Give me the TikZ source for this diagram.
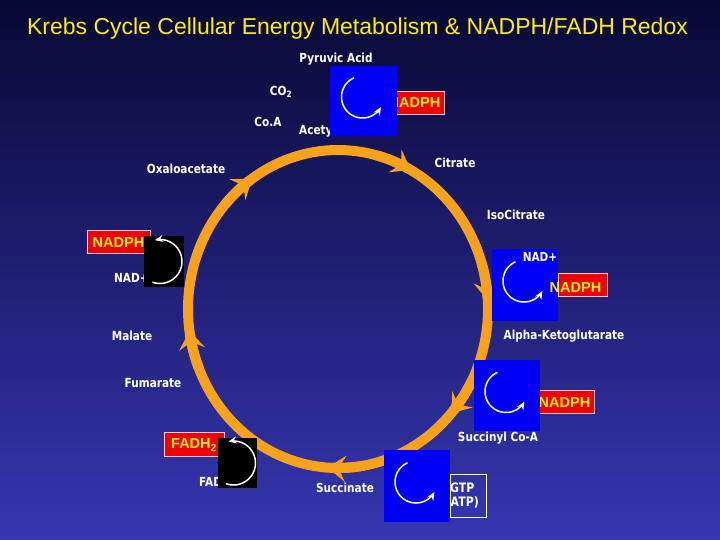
\documentclass[tikz,border=0pt]{standalone}
\usepackage{fontspec}
\setmainfont{Liberation Sans}
\newfontfamily\labfont[FakeStretch=0.84]{DejaVu Sans}
\usetikzlibrary{arrows.meta}
\definecolor{bgtop}{RGB}{8,8,52}
\definecolor{bgbot}{RGB}{54,54,178}
\definecolor{orng}{RGB}{248,162,28}
\definecolor{boxblue}{RGB}{0,0,245}
\definecolor{boxred}{RGB}{240,0,0}
\definecolor{ylw}{RGB}{255,240,0}
\definecolor{redrim}{RGB}{255,200,200}
\tikzset{
  lab/.style={text=white, font=\labfont\bfseries\fontsize{12.5}{14}\selectfont, inner sep=0pt},
  ring/.style={draw=orng, line width=10pt},
  cyc/.style={draw=orng, line width=10pt, -{Stealth[length=18pt,width=26pt,inset=7pt]}},
  bluebox/.style={fill=boxblue, inner sep=0pt, minimum width=66pt, minimum height=71pt},
  blackbox/.style={fill=black, inner sep=0pt, minimum width=40pt, minimum height=50pt},
  redbox/.style={fill=boxred, draw=redrim, line width=0.8pt, inner sep=0pt, minimum height=23pt},
  ytext/.style={text=ylw, font=\bfseries\fontsize{14.5}{16}\selectfont, inner sep=0pt},
  turn/.style={draw=white, line width=1.5pt, -{Stealth[length=8pt,width=7pt]}}
}
\begin{document}
\begin{tikzpicture}[x=1pt,y=-1pt]
\shade[top color=bgtop, bottom color=bgbot] (0,0) rectangle (720,540);
\useasboundingbox (0,0) rectangle (720,540);

% title
\node[text=ylw, font=\fontsize{23}{26}\selectfont, inner sep=0pt] (title) at (357.5,29) {Krebs Cycle Cellular Energy Metabolism \& NADPH/FADH Redox};

% cycle
\def\cx{338}\def\cy{309}\def\rx{150}\def\ry{159}
\draw[ring] plot[domain=0:360, samples=120, smooth cycle] ({\cx+\rx*cos(\x)}, {\cy+\ry*sin(\x)});
\foreach \b in {41, 94, 172, 235, 299, 357}{
  \draw[cyc] plot[domain=\b-14:\b, samples=10, smooth] ({\cx+\rx*cos(\x)}, {\cy+\ry*sin(\x)});
}

% labels
\node[lab] (pyr) at (336,59) {Pyruvic Acid};
\node[lab] (co2) at (281,92) {CO\textsubscript{2}};
\node[lab] (coa) at (268,122) {Co.A};
\node[lab, anchor=west] (acetyl) at (299,131) {Acetyl Co-A};
\node[lab] (oxa) at (186,169) {Oxaloacetate};
\node[lab] (cit) at (455,163) {Citrate};
\node[lab] (iso) at (516,215) {IsoCitrate};
\node[lab, anchor=west] (nadl) at (114,278) {NAD+};
\node[lab] (akg) at (564,336) {Alpha-Ketoglutarate};
\node[lab] (mal) at (132,336) {Malate};
\node[lab] (fum) at (153,383) {Fumarate};
\node[lab] (suc) at (498,438) {Succinyl Co-A};
\node[lab] (scn) at (345,488) {Succinate};
\node[lab, anchor=west] (fad) at (199,482) {FAD};

% red boxes (behind)
\node[redbox, minimum width=59pt] (r1) at (414.5,102.5) {};
\node[ytext] (n1) at (414.5,103) {NADPH};
\node[redbox, minimum width=63pt] (r2) at (118.5,242) {};
\node[ytext] (n2) at (118.5,242.5) {NADPH};
\node[redbox, minimum width=49pt] (r3) at (582.5,285) {};
\node[redbox, minimum width=55pt] (r4) at (566.5,402) {};
\node[ytext] (n4) at (564.5,402.5) {NADPH};
\node[redbox, minimum width=60pt, minimum height=24pt] (r5) at (194,444) {};
\node[ytext] (f5) at (194,445) {FADH\textsubscript{2}};

% GTP box
\draw[white, line width=0.8pt] (450,474) rectangle (486,517);
\node[lab, anchor=west, font=\labfont\bfseries\fontsize{13}{14}\selectfont] (gtp) at (450,487.5) {GTP};
\node[lab, anchor=west, font=\labfont\bfseries\fontsize{13}{14}\selectfont] (atp) at (445.5,502) {(ATP)};

% boxes
\node[bluebox, minimum width=67pt, minimum height=70pt] (b1) at (363.5,101) {};
\node[bluebox, minimum height=72pt] (b2) at (525,285) {};
\node[bluebox] (b3) at (507,395.5) {};
\node[bluebox, minimum height=72pt] (b4) at (417,486) {};
\node[blackbox, minimum height=51pt] (k1) at (164,261.5) {};
\node[blackbox, minimum width=39pt] (k2) at (237.5,463) {};

% overlay texts
\node[lab] (nadr) at (540,257) {NAD+};
\node[ytext] (n3) at (575.5,287.5) {NADPH};

% turning arrows
\foreach \bx in {b1,b2,b3,b4}{
  \begin{scope}[shift={(\bx.center)}]
  \draw[turn] plot[domain=246:29, samples=40, smooth] ({-1+21*cos(\x)}, {-4+21*sin(\x)});
  \end{scope}
}
\foreach \bx in {k1,k2}{
  \begin{scope}[shift={(\bx.center)}]
  \draw[turn] plot[domain=110:-103, samples=40, smooth] ({-4+22*cos(\x)}, {22*sin(\x)});
  \end{scope}
}
\end{tikzpicture}
\end{document}
